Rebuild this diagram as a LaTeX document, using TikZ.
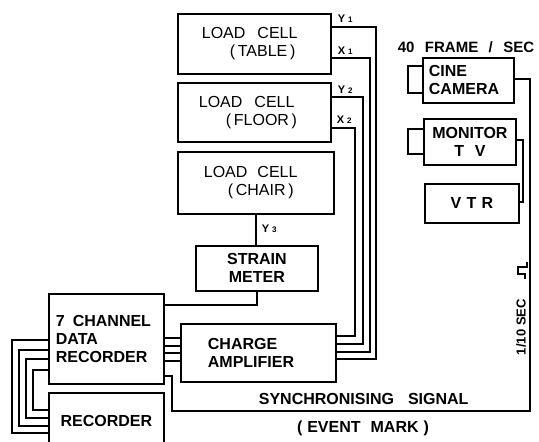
\documentclass[tikz,border=0pt]{standalone}
\usepackage{fontspec}
\setmainfont[WordSpace=2.5]{Liberation Sans}
\begin{document}
\begin{tikzpicture}[x=1pt,y=-1pt,line width=1.8pt,
  box/.style={draw,rectangle,anchor=north west,inner ysep=0pt,
    font=\fontsize{16}{18}\selectfont\bfseries},
  cellbox/.style={box,font=\fontsize{16}{18}\selectfont,align=left},
  lens/.style={draw,rectangle,anchor=north west,inner sep=0pt},
  wire/.style={line width=1.8pt},
  tag/.style={anchor=base west,inner sep=0pt,font=\fontsize{11}{12}\selectfont\bfseries},
  captxt/.style={inner sep=0pt,font=\fontsize{16}{18}\selectfont\bfseries}]
\useasboundingbox (0,0) rectangle (539,442);
\clip (0,0) rectangle (539,442);
% load cells
\node[cellbox,inner xsep=24pt,text width=105pt,minimum width=153pt,minimum height=60pt] (lt) at (177,13) {LOAD\hspace{12pt}CELL\\\hspace*{28pt}(\,TABLE\,)};
\node[cellbox,inner xsep=21pt,text width=111pt,minimum width=153pt,minimum height=59pt] (lf) at (177,82) {LOAD\hspace{12pt}CELL\\\hspace*{27pt}(\,FLOOR\,)};
\node[cellbox,inner xsep=26pt,text width=104pt,minimum width=156pt,minimum height=62pt] (lc) at (177,151) {LOAD\hspace{10pt}CELL\\\hspace*{24pt}(\,CHAIR\,)};
% other boxes
\node[box,align=center,inner xsep=4pt,text width=114pt,minimum width=122pt,minimum height=45pt] (sm) at (195,245) {STRAIN\\METER};
\node[box,align=left,inner xsep=7pt,text width=101pt,minimum width=115pt,minimum height=90pt] (dr) at (48,293) {7\hspace{8pt}CHANNEL\\DATA\\RECORDER};
\node[box,align=left,inner xsep=27pt,text width=101pt,minimum width=155pt,minimum height=58pt] (ca) at (180,323) {CHARGE\\AMPLIFIER};
\node[box,align=center,inner xsep=4pt,text width=107pt,minimum width=115pt,minimum height=56pt] (rc) at (48,392) {RECORDER};
\node[box,align=left,inner xsep=6pt,text width=79pt,minimum width=91pt,minimum height=45pt] (cc) at (422,57) {CINE\\CAMERA};
\node[box,align=center,inner xsep=2pt,text width=88pt,minimum width=92pt,minimum height=46pt] (mt) at (423,118) {MONITOR\\T~~V};
\node[box,align=center,inner xsep=2pt,text width=90pt,minimum width=94pt,minimum height=39pt] (vt) at (424,183) {V~T~R};
\node[lens,minimum width=15pt,minimum height=27pt] (cl) at (407,65) {};
\node[lens,minimum width=16pt,minimum height=25pt] (ml) at (407,128) {};
% channel tags
\node[tag] (ty1) at (337,22) {Y\hspace{3pt}{\fontsize{8}{9}\selectfont 1}};
\node[tag] (tx1) at (337,54) {X\hspace{3pt}{\fontsize{8}{9}\selectfont 1}};
\node[tag] (ty2) at (337,93) {Y\hspace{3pt}{\fontsize{8}{9}\selectfont 2}};
\node[tag] (tx2) at (336,123) {X\hspace{3pt}{\fontsize{8}{9}\selectfont 2}};
\node[tag] (ty3) at (261,232) {Y\hspace{3pt}{\fontsize{8}{9}\selectfont 3}};
% captions
\node[captxt,anchor=base,font=\fontsize{15}{18}\selectfont\bfseries] (fps) at (466,52) {40 FRAME / SEC};
\node[captxt,rotate=90,font=\fontsize{13}{15}\selectfont\bfseries] (tsec) at (521,327) {1/10\hspace{4pt}SEC};
\node[captxt,anchor=base west] (sync) at (258,404) {SYNCHRONISING\hspace{14pt}SIGNAL};
\node[captxt,anchor=base] (evt) at (363,432) {(\hspace{5pt}EVENT\hspace{10pt}MARK\hspace{5pt})};
% load cell wires
\draw[wire] (lt.east |- 0,27) -| (376,359) -- (ca.east |- 0,359);
\draw[wire] (lt.east |- 0,58) -| (370,352) -- (ca.east |- 0,352);
\draw[wire] (lf.east |- 0,97) -| (363,344) -- (ca.east |- 0,344);
\draw[wire] (lf.east |- 0,128) -| (355,336) -- (ca.east |- 0,336);
% chair to strain meter to recorder
\draw[wire] (lc.south) -- (lc.south |- sm.north);
\draw[wire] (sm.south) -- (sm.south |- 0,305) -- (dr.east |- 0,305);
% data recorder to charge amplifier
\draw[wire] (dr.east |- 0,338) -- (ca.west |- 0,338);
\draw[wire] (dr.east |- 0,346) -- (ca.west |- 0,346);
\draw[wire] (dr.east |- 0,353) -- (ca.west |- 0,353);
\draw[wire] (dr.east |- 0,361) -- (ca.west |- 0,361);
% data recorder to recorder (left)
\draw[wire] (dr.west |- 0,340) -- (12,340) -- (12,433) -- (rc.west |- 0,433);
\draw[wire] (dr.west |- 0,350) -- (19,350) -- (19,426) -- (rc.west |- 0,426);
\draw[wire] (dr.west |- 0,359) -- (26,359) -- (26,418) -- (rc.west |- 0,418);
\draw[wire] (dr.west |- 0,370) -- (33,370) -- (33,410) -- (rc.west |- 0,410);
% synchronising signal
\draw[wire] (dr.east |- 0,376) -- (172,376) -- (172,411) -- (530,411) -- (530,79) -- (cc.east |- 0,79);
% monitor to VTR
\draw[wire] (mt.east |- 0,140) -- (523,140) -- (523,202) -- (vt.east |- 0,202);
% pulse symbol
\draw[line width=1.4pt] (527,262) -- (527,267) -- (518,267) -- (518,274) -- (525,274) -- (525,279);
\end{tikzpicture}
\end{document}
